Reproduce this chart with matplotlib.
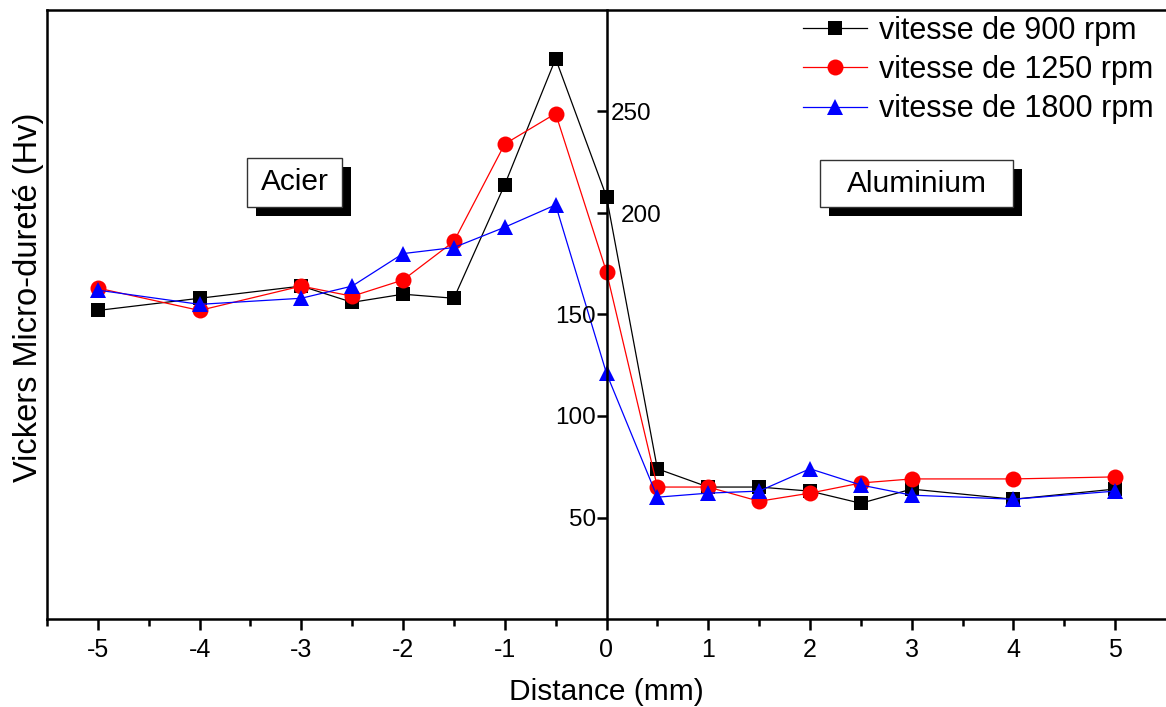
import matplotlib
matplotlib.use("Agg")
import matplotlib.pyplot as plt
from matplotlib.patches import Rectangle

plt.rcParams['font.family'] = ['Liberation Sans', 'DejaVu Sans']
plt.rcParams['axes.unicode_minus'] = False

distance = [-5, -4, -3, -2.5, -2, -1.5, -1, -0.5, 0, 0.5, 1, 1.5, 2, 2.5, 3, 4, 5]
hv_900 = [152, 158, 164, 156, 160, 158, 214, 276, 208, 74, 65, 65, 63, 57, 64, 59, 64]
hv_1250 = [163, 152, 164, 159, 167, 186, 234, 249, 171, 65, 65, 58, 62, 67, 69, 69, 70]
hv_1800 = [162, 155, 158, 164, 180, 183, 193, 204, 121, 60, 62, 63, 74, 66, 61, 59, 63]

series = [
    ("vitesse de 900 rpm", hv_900, "black", "s", 10),
    ("vitesse de 1250 rpm", hv_1250, "red", "o", 11.5),
    ("vitesse de 1800 rpm", hv_1800, "blue", "^", 11.5),
]

x_ticks = [-5, -4, -3, -2, -1, 0, 1, 2, 3, 4, 5]
y_ticks = [50, 100, 150, 200, 250]
x_limits = (-5.5, 5.5)
y_limits = (0, 300)

W, H = 1166, 707
fig = plt.figure(figsize=(W / 100, H / 100), dpi=100)
ax = fig.add_axes([47 / W, 1 - 619 / H, (1166 - 47) / W, (619 - 10) / H])

for label, values, color, marker, ms in series:
    ax.plot(distance, values, color=color, lw=0.9, marker=marker, ms=ms,
            markeredgewidth=0, label=label, clip_on=False, zorder=3)

ax.set_xlim(*x_limits)
ax.set_ylim(*y_limits)

# central vertical axis at x = 0
ay = ax.twinx()
ay.set_ylim(*y_limits)
for side in ("top", "bottom"):
    ay.spines[side].set_visible(False)
ay.spines["left"].set_position(("data", 0))
ay.spines["right"].set_position(("data", 0))
ay.spines["left"].set_linewidth(1.8)
ay.spines["right"].set_visible(False)
ay.set_yticks(y_ticks)
ay.tick_params(axis="y", left=True, right=False, labelleft=True, labelright=True,
               direction="out", length=7, width=1.8, color="black",
               labelsize=17.5, pad=0.5)
for tick, val in zip(ay.yaxis.get_major_ticks(), y_ticks):
    if val >= 200:
        tick.label1.set_visible(False)
        tick.set_pad(-4 if val == 250 else 3)
    else:
        tick.label2.set_visible(False)

# frame: left, top, bottom
for side in ("left", "top", "bottom"):
    ax.spines[side].set_linewidth(1.8)
ax.spines["right"].set_visible(False)
ax.tick_params(axis="y", left=False, labelleft=False, right=False, labelright=False)

ax.set_xticks(x_ticks)
ax.set_xticks([v + 0.5 for v in x_ticks[:-1]] + [-5.5], minor=True)
ax.tick_params(axis="x", which="major", direction="out", length=8, width=1.8,
               labelsize=18, pad=6)
ax.tick_params(axis="x", which="minor", direction="out", length=5, width=1.8)
ax.set_xlabel("Distance (mm)", fontsize=21.5, labelpad=11)
ax.set_ylabel("Vickers Micro-dureté (Hv)", fontsize=23.5)
ax.yaxis.set_label_coords(-0.0025, 0.529)

# material labels with drop shadows
def shadow_box(x0, y0, x1, y1, text):
    off = 9
    ax.add_patch(Rectangle((x0 + off, H - y1 - off), x1 - x0, y1 - y0,
                           transform=None, facecolor="black", edgecolor="none", zorder=4))
    ax.add_patch(Rectangle((x0, H - y1), x1 - x0, y1 - y0, transform=None,
                           facecolor="white", edgecolor="#333333", lw=1.0, zorder=5))
    ax.text((x0 + x1) / 2, H - (y0 + y1) / 2, text, transform=None, fontsize=21.5,
            ha="center", va="center", zorder=6)

shadow_box(247, 158, 342, 207, "Acier")
shadow_box(820, 160, 1013, 207, "Aluminium")

fig.legend(loc="upper left", bbox_to_anchor=(803 / W, 1 - 16 / H), frameon=False,
           fontsize=22, handlelength=2.1, handletextpad=0.4, labelspacing=0.3,
           borderpad=0, borderaxespad=0)

fig.savefig("out.png", dpi=100)
